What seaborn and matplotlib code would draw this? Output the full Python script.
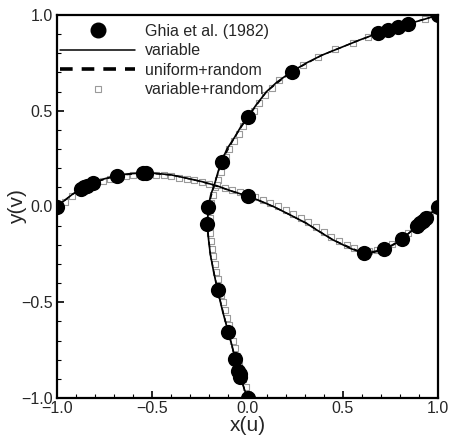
import numpy as np
import pandas as pd
import seaborn as sns
import matplotlib.pyplot as plt
from matplotlib.lines import Line2D

# Ghia et al. (1982), Re=100, mapped to [-1, 1]
ghia_u = [0.0, -0.03717, -0.04192, -0.04775, -0.06434, -0.10150, -0.15662, -0.21090,
          -0.20581, -0.13641, 0.00332, 0.23151, 0.68717, 0.73722, 0.78871, 0.84123, 1.0]
ghia_uy = [-1.0, -0.8906, -0.875, -0.8594, -0.7968, -0.6562, -0.4374, -0.0938,
           0.0, 0.2344, 0.4688, 0.7032, 0.9062, 0.9218, 0.9376, 0.9532, 1.0]
ghia_vx = [-1.0, -0.875, -0.8594, -0.8438, -0.8124, -0.6876, -0.5468, -0.5312,
           0.0, 0.6094, 0.7188, 0.8126, 0.8906, 0.9062, 0.9218, 0.9376, 1.0]
ghia_v = [0.0, 0.09233, 0.10091, 0.10890, 0.12317, 0.16077, 0.17507, 0.17527,
          0.05454, -0.24533, -0.22445, -0.16914, -0.10313, -0.08864, -0.07391, -0.05906, 0.0]

# "variable" grid solution
var_uy = [-1.0, -0.95, -0.891, -0.859, -0.797, -0.72, -0.656, -0.55, -0.437, -0.34, -0.25,
          -0.15, -0.094, 0.0, 0.06, 0.12, 0.18, 0.234, 0.30, 0.364, 0.42, 0.469, 0.53,
          0.60, 0.65, 0.703, 0.75, 0.79, 0.83, 0.87, 0.906, 0.922, 0.938, 0.953, 0.975, 1.0]
var_u = [0.0, -0.018, -0.037, -0.048, -0.064, -0.083, -0.101, -0.130, -0.157, -0.178, -0.195,
         -0.207, -0.211, -0.206, -0.193, -0.172, -0.155, -0.137, -0.108, -0.066, -0.033, 0.003, 0.045,
         0.10, 0.155, 0.23, 0.31, 0.39, 0.49, 0.59, 0.687, 0.737, 0.789, 0.841, 0.92, 1.0]
var_vx = [-1.0, -0.96, -0.92, -0.875, -0.844, -0.812, -0.75, -0.687, -0.62, -0.547, -0.48,
          -0.40, -0.32, -0.24, -0.16, -0.08, 0.0, 0.07, 0.14, 0.22, 0.31, 0.38, 0.45, 0.54,
          0.609, 0.66, 0.719, 0.77, 0.8126, 0.86, 0.906, 0.9376, 0.97, 1.0]
var_v = [0.0, 0.032, 0.063, 0.092, 0.109, 0.123, 0.145, 0.161, 0.171, 0.175, 0.173,
         0.165, 0.148, 0.130, 0.108, 0.079, 0.055, 0.028, -0.002, -0.042, -0.088, -0.133, -0.175, -0.219,
         -0.244, -0.240, -0.224, -0.198, -0.169, -0.128, -0.088, -0.059, -0.03, 0.0]

# "uniform+random" solution (hidden under the solid line)
uni_uy = [-1.0, -0.891, -0.797, -0.656, -0.437, -0.25, -0.094, 0.0, 0.12, 0.234, 0.364, 0.469,
          0.60, 0.703, 0.79, 0.87, 0.938, 1.0]
uni_u = [0.0, -0.037, -0.064, -0.101, -0.157, -0.195, -0.211, -0.206, -0.172, -0.137, -0.066, 0.003,
         0.10, 0.23, 0.39, 0.59, 0.789, 1.0]
uni_vx = [-1.0, -0.92, -0.812, -0.687, -0.547, -0.40, -0.24, 0.0, 0.14, 0.31, 0.45, 0.609,
          0.719, 0.8126, 0.906, 1.0]
uni_v = [0.0, 0.063, 0.123, 0.161, 0.175, 0.165, 0.130, 0.055, -0.002, -0.088, -0.175, -0.244,
         -0.224, -0.169, -0.088, 0.0]

# "variable+random" squares
sq_uy = [-0.98, -0.94, -0.90, -0.86, -0.82, -0.78, -0.74, -0.70, -0.66, -0.62, -0.58, -0.54,
         -0.50, -0.46, -0.42, -0.38, -0.34, -0.30, -0.26, -0.22, -0.18, -0.14, -0.10, -0.06,
         -0.02, 0.02, 0.06, 0.10, 0.14, 0.18, 0.22, 0.26, 0.30, 0.34, 0.38, 0.42, 0.46, 0.50,
         0.54, 0.58, 0.62, 0.66, 0.70, 0.74, 0.78, 0.82, 0.855, 0.885, 0.91, 0.935, 0.96, 0.98]
sq_u = [0.004, -0.010, -0.023, -0.036, -0.046, -0.056, -0.066, -0.077, -0.088, -0.099, -0.110, -0.120,
        -0.130, -0.140, -0.148, -0.157, -0.165, -0.173, -0.180, -0.186, -0.191, -0.196, -0.199, -0.199,
        -0.196, -0.190, -0.181, -0.168, -0.154, -0.140, -0.128, -0.113, -0.096, -0.071, -0.046, -0.021, 0.008, 0.034,
        0.062, 0.093, 0.127, 0.166, 0.228, 0.292, 0.372, 0.457, 0.555, 0.63, 0.70, 0.78, 0.86, 0.93]
sq_vx = [-0.96, -0.92, -0.88, -0.84, -0.80, -0.76, -0.72, -0.68, -0.64, -0.60, -0.56, -0.52,
         -0.48, -0.44, -0.40, -0.36, -0.32, -0.28, -0.24, -0.20, -0.16, -0.12, -0.08, -0.04,
         0.00, 0.04, 0.08, 0.12, 0.16, 0.20, 0.24, 0.28, 0.32, 0.36, 0.40, 0.44, 0.48, 0.52,
         0.56, 0.60, 0.64, 0.68, 0.72, 0.76, 0.80, 0.84, 0.88, 0.92, 0.96]
sq_v = [0.025, 0.055, 0.080, 0.101, 0.117, 0.131, 0.142, 0.151, 0.158, 0.162, 0.165, 0.165,
        0.164, 0.162, 0.158, 0.151, 0.143, 0.136, 0.128, 0.120, 0.110, 0.098, 0.085, 0.074,
        0.064, 0.050, 0.035, 0.019, 0.001, -0.019, -0.040, -0.060, -0.082, -0.108, -0.133, -0.158, -0.180, -0.199,
        -0.216, -0.230, -0.232, -0.225, -0.213, -0.195, -0.170, -0.140, -0.108, -0.072, -0.038]

sns.set_style('ticks')
plt.rcParams['font.family'] = ['Liberation Sans', 'DejaVu Sans']

fig = plt.figure(figsize=(4.51, 4.37), dpi=100)
ax = fig.add_axes([57 / 451, 39 / 437, 381 / 451, 383 / 437])

gray = '#9a9a9a'
sns.scatterplot(x=sq_u, y=sq_uy, ax=ax, marker='s', s=14, facecolor='white',
                edgecolor=gray, linewidth=0.8, zorder=2)
sns.scatterplot(x=sq_vx, y=sq_v, ax=ax, marker='s', s=14, facecolor='white',
                edgecolor=gray, linewidth=0.8, zorder=2)

for xs, ys in [(uni_u, uni_uy), (uni_vx, uni_v)]:
    sns.lineplot(x=xs, y=ys, ax=ax, sort=False, estimator=None, color='black',
                 linewidth=1.0, linestyle=(0, (4, 3)), zorder=3)
for xs, ys in [(var_u, var_uy), (var_vx, var_v)]:
    sns.lineplot(x=xs, y=ys, ax=ax, sort=False, estimator=None, color='black',
                 linewidth=1.2, zorder=4)

sns.scatterplot(x=ghia_u, y=ghia_uy, ax=ax, s=120, color='black', edgecolor='black',
                linewidth=0, zorder=5)
sns.scatterplot(x=ghia_vx, y=ghia_v, ax=ax, s=120, color='black', edgecolor='black',
                linewidth=0, zorder=5)

ax.set_xlim(-1, 1)
ax.set_ylim(-1, 1)
ax.set_xticks([-1.0, -0.5, 0.0, 0.5, 1.0])
ax.set_yticks([-1.0, -0.5, 0.0, 0.5, 1.0])
ax.set_xticks(np.arange(-1.0, 1.01, 0.1), minor=True)
ax.set_yticks(np.arange(-1.0, 1.01, 0.1), minor=True)
ax.tick_params(which='both', direction='in', top=False, right=False, labelsize=11.5, color='black')
ax.tick_params(which='major', length=5, width=1.2)
ax.tick_params(which='minor', length=3, width=0.8)
ax.tick_params(axis='x', pad=2)
ax.tick_params(axis='y', pad=3)
for s in ax.spines.values():
    s.set_linewidth(1.6)
    s.set_color('black')

ax.set_xlabel('x(u)', fontsize=15, labelpad=0)
ax.set_ylabel('y(v)', fontsize=15, labelpad=-4)

handles = [
    Line2D([], [], marker='o', color='black', linestyle='none', markersize=10.5),
    Line2D([], [], color='black', linewidth=1.1),
    Line2D([], [], color='black', linewidth=2.6, linestyle=(0, (3.5, 2.5))),
    Line2D([], [], marker='s', color=gray, markerfacecolor='white', linestyle='none',
           markersize=4, markeredgewidth=0.8),
]
labels = ['Ghia et al. (1982)', 'variable', 'uniform+random', 'variable+random']
ax.legend(handles, labels, loc='upper left', bbox_to_anchor=(0.008, 0.977), frameon=False,
          fontsize=11.5, handlelength=4.7, handletextpad=0.6, labelspacing=0.28,
          borderaxespad=0, borderpad=0)

plt.savefig('out.png', dpi=100)
